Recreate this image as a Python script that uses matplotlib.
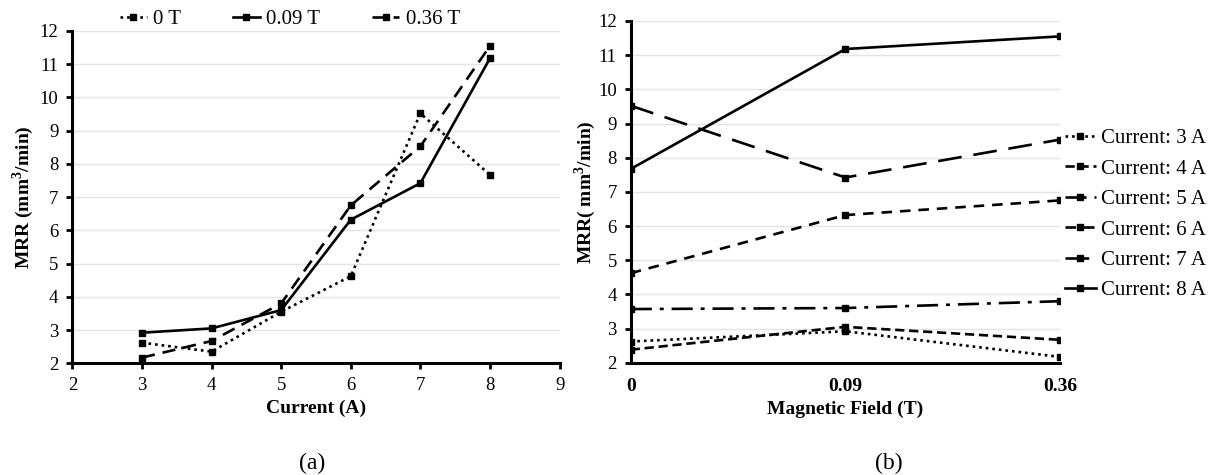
import matplotlib
matplotlib.use('Agg')
import matplotlib.pyplot as plt

plt.rcParams['font.family'] = ['Liberation Serif', 'DejaVu Serif']
plt.rcParams['mathtext.fontset'] = 'custom'
plt.rcParams['mathtext.rm'] = 'Liberation Serif'
plt.rcParams['mathtext.bf'] = 'Liberation Serif:bold'

# panel (a): MRR vs current for each magnetic field
current = [3, 4, 5, 6, 7, 8]
mrr_0T = [2.62, 2.35, 3.55, 4.62, 9.52, 7.67]
mrr_009T = [2.92, 3.05, 3.60, 6.32, 7.42, 11.18]
mrr_036T = [2.17, 2.67, 3.80, 6.75, 8.53, 11.55]

# panel (b): MRR vs magnetic field for each current
field_labels = ['0', '0.09', '0.36']
mrr_3A = [2.62, 2.92, 2.17]
mrr_4A = [2.38, 3.05, 2.67]
mrr_5A = [3.57, 3.60, 3.80]
mrr_6A = [4.62, 6.32, 6.75]
mrr_7A = [9.52, 7.42, 8.53]
mrr_8A = [7.67, 11.18, 11.55]

fig = plt.figure(figsize=(12.12, 4.75), dpi=100)
ax1 = fig.add_axes([0.0597, 0.2352, 0.402, 0.6996])
ax2 = fig.add_axes([0.5204, 0.2364, 0.3542, 0.7194])

lw = 1.9
ms = 4


def style_axis(ax):
    ax.set_ylim(2, 12)
    ax.set_yticks(range(2, 13))
    ax.grid(axis='y', color='#e4e4e4', lw=1)
    ax.set_axisbelow(True)
    for s in ['top', 'right']:
        ax.spines[s].set_visible(False)
    for s in ['left', 'bottom']:
        ax.spines[s].set_linewidth(2.2)
    ax.tick_params(direction='out', length=4, width=2, labelsize=13.5, pad=6)


# ---- (a)
ax1.plot(current, mrr_0T, color='black', lw=lw, ls=(0, (1, 1.5)), marker='s', ms=ms, label='0 T')
ax1.plot(current, mrr_009T, color='black', lw=lw, ls='-', marker='s', ms=ms, label='0.09 T')
ax1.plot(current, mrr_036T, color='black', lw=lw, ls=(0, (5, 3)), marker='s', ms=ms, label='0.36 T')
style_axis(ax1)
ax1.set_xlim(2, 9)
ax1.set_xticks(range(2, 10))
ax1.set_xlabel('Current (A)', fontsize=14, fontweight='bold', labelpad=4)
ax1.set_ylabel(r'MRR (mm$^{\mathbf{3}}$/min)', fontsize=14, fontweight='bold', labelpad=3)
ax1.legend(loc='center', bbox_to_anchor=(0.239, 0.96), bbox_transform=fig.transFigure,
           ncol=3, frameon=False, fontsize=15, handlelength=1.3, handletextpad=0.3,
           columnspacing=2.5, borderaxespad=0, borderpad=0)

# ---- (b)
xb = range(len(field_labels))
ax2.plot(xb, mrr_3A, color='black', lw=lw, ls=(0, (1, 1.5)), marker='s', ms=ms, label='Current: 3 A')
ax2.plot(xb, mrr_4A, color='black', lw=lw, ls=(0, (3.5, 1.8)), marker='s', ms=ms, label='Current: 4 A')
ax2.plot(xb, mrr_5A, color='black', lw=lw, ls=(0, (8, 3, 1.5, 3)), marker='s', ms=ms, label='Current: 5 A')
ax2.plot(xb, mrr_6A, color='black', lw=lw, ls=(0, (4, 3)), marker='s', ms=ms, label='Current: 6 A')
ax2.plot(xb, mrr_7A, color='black', lw=lw, ls=(0, (9, 4.5)), marker='s', ms=ms, label='Current: 7 A')
ax2.plot(xb, mrr_8A, color='black', lw=lw, ls='-', marker='s', ms=ms, label='Current: 8 A')
style_axis(ax2)
ax2.set_xlim(0, len(field_labels) - 1)
ax2.set_xticks(list(xb))
ax2.set_xticklabels(field_labels, fontweight='bold', fontsize=14)
ax2.tick_params(axis='x', length=0, pad=11)
ax2.set_xlabel('Magnetic Field (T)', fontsize=14, fontweight='bold', labelpad=4)
ax2.set_ylabel(r'MRR( mm$^{\mathbf{3}}$/min)', fontsize=14, fontweight='bold', labelpad=0)
ax2.legend(loc='upper left', bbox_to_anchor=(0.879, 0.729), bbox_transform=fig.transFigure,
           frameon=False, fontsize=15, handlelength=1.45, handletextpad=0.25,
           labelspacing=0.52, borderaxespad=0, borderpad=0)

fig.text(0.2575, 0.012, '(a)', ha='center', fontsize=17)
fig.text(0.733, 0.012, '(b)', ha='center', fontsize=17)

fig.savefig('out.png', dpi=100)
